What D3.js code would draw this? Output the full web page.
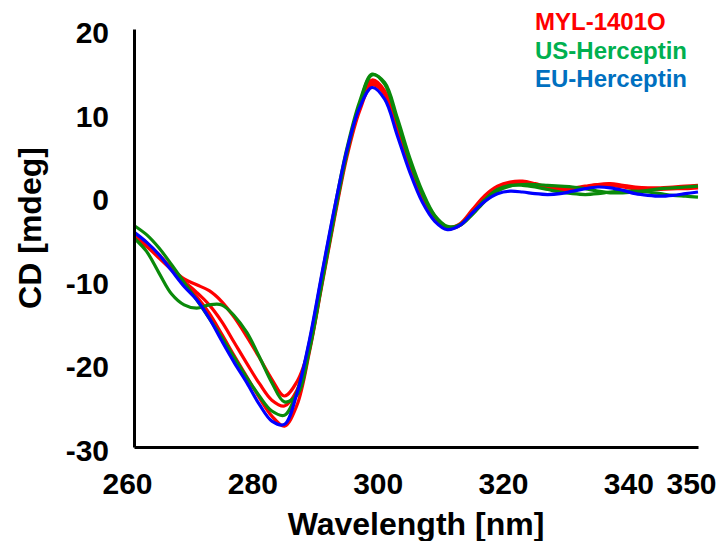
<!DOCTYPE html>
<html>
<head>
<meta charset="utf-8">
<script src="https://cdn.jsdelivr.net/npm/d3@7"></script>
<style>
  body { margin: 0; background: #fff; }
  svg { display: block; font-family: "Liberation Sans", Arial, sans-serif; font-weight: bold; }
</style>
</head>
<body>
<div id="chart"></div>
<script>
// Wavelength grid (nm)
const wavelengths = [260, 262, 264, 266, 268, 270, 272, 274, 276, 278, 280, 282, 284, 286, 288, 290,
  292, 294, 296, 298, 300, 302, 304, 306, 308, 310, 312, 314, 316, 318, 320, 322, 324, 326, 328,
  330, 332, 334, 336, 338, 340, 342, 344, 346, 348, 350];

// MYL-1401O lots
const myl1 = [-4.6, -5.6, -7.0, -8.6, -9.9, -10.6, -11.3, -12.6, -14.5, -16.8, -19.3, -21.9, -23.9, -22.2, -18.0, -10.0,
  -1.9, 5.4, 10.9, 13.9, 12.6, 8.2, 3.6, -0.2, -2.6, -3.7, -3.3, -1.6, 0.1, 1.2, 1.7, 1.8, 1.5, 1.1, 0.9,
  0.9, 1.1, 1.4, 1.5, 1.3, 1.1, 1.0, 1.0, 1.1, 1.2, 1.3];
const myl2 = [-5.1, -6.0, -7.4, -8.8, -10.2, -11.5, -13.0, -15.0, -17.5, -20.0, -22.4, -24.4, -25.1, -23.2, -18.2, -10.2,
  -2.2, 5.2, 10.6, 13.6, 12.3, 8.0, 3.4, -0.3, -2.7, -3.8, -3.4, -1.8, -0.1, 1.0, 1.5, 1.6, 1.3, 1.0, 0.9,
  1.0, 1.2, 1.4, 1.3, 1.1, 0.9, 0.8, 0.8, 0.9, 1.0, 1.1];
const myl3 = [-4.8, -5.8, -7.2, -8.8, -10.4, -12.0, -14.0, -16.5, -19.1, -21.6, -24.1, -26.3, -27.5, -25.0, -18.6, -10.6,
  -2.6, 4.8, 10.2, 13.3, 12.2, 7.9, 3.3, -0.4, -2.8, -3.9, -3.5, -1.9, -0.2, 0.9, 1.4, 1.5, 1.2, 0.9, 0.7,
  0.8, 1.0, 1.3, 1.4, 1.2, 1.0, 0.9, 0.9, 0.9, 0.9, 1.0];

// US-Herceptin lots
const us1 = [-3.5, -4.6, -6.2, -8.2, -10.3, -12.4, -14.6, -16.9, -19.3, -21.7, -23.9, -25.7, -26.2, -23.4, -17.4, -9.4,
  -1.5, 5.8, 11.3, 14.6, 13.4, 9.0, 4.2, 0.3, -2.4, -3.7, -3.4, -2.0, -0.4, 0.8, 1.3, 1.3, 1.1, 0.8, 0.5,
  0.3, 0.2, 0.3, 0.5, 0.6, 0.6, 0.5, 0.3, 0.1, 0.0, -0.1];
const us2 = [-5.0, -6.6, -9.2, -11.7, -13.0, -13.4, -13.0, -13.0, -14.3, -16.3, -19.2, -22.3, -24.6, -23.8, -18.4, -10.4,
  -2.3, 5.2, 11.0, 14.5, 13.6, 9.4, 4.6, 0.6, -2.3, -3.6, -3.5, -2.2, -0.6, 0.6, 1.2, 1.4, 1.4, 1.3, 1.2,
  1.1, 0.9, 0.6, 0.4, 0.4, 0.5, 0.7, 0.9, 1.0, 1.1, 1.2];

// EU-Herceptin
const eu1 = [-4.3, -5.5, -7.0, -8.9, -10.8, -12.4, -14.6, -17.3, -19.9, -22.3, -24.9, -26.9, -27.3, -23.6, -17.2, -9.2,
  -1.4, 5.6, 10.6, 13.0, 11.6, 7.3, 2.9, -0.7, -3.0, -4.0, -3.5, -2.0, -0.6, 0.3, 0.6, 0.5, 0.3, 0.2, 0.3,
  0.6, 0.9, 1.1, 1.0, 0.7, 0.3, 0.1, 0.0, 0.1, 0.3, 0.5];

const xTicks = [260, 280, 300, 320, 340, 350];
const yTicks = [20, 10, 0, -10, -20, -30];
const legendNames = ["MYL-1401O", "US-Herceptin", "EU-Herceptin"];

class CdChart {
  constructor(container) {
    this.container = container;
    this.width = 720;
    this.height = 541;
  }

  render() {
    const svg = d3
      .select(this.container)
      .append("svg")
      .attr("width", this.width)
      .attr("height", this.height);

    const x = d3.scaleLinear().domain([260, 350]).range([134, 698]);
    const y = d3.scaleLinear().domain([-30, 20]).range([447, 29]);

    // lines: red first, then green, blue on top
    const series = [
      { values: myl1, color: "#ff0000" },
      { values: myl2, color: "#ff0000" },
      { values: myl3, color: "#ff0000" },
      { values: us1, color: "#0a8a0a" },
      { values: us2, color: "#0a8a0a" },
      { values: eu1, color: "#0000ff" },
    ];

    const line = d3
      .line()
      .x((d) => x(d[0]))
      .y((d) => y(d[1]))
      .curve(d3.curveCatmullRom.alpha(0.5));

    svg
      .append("g")
      .selectAll("path")
      .data(series)
      .enter()
      .append("path")
      .attr("d", (s) => line(wavelengths.map((w, i) => [w, s.values[i]])))
      .attr("fill", "none")
      .attr("stroke", (s) => s.color)
      .attr("stroke-width", 3.2)
      .attr("stroke-linejoin", "round");

    // axes (plain hyphen for negatives, like the original)
    const fmt = (d) => String(d);

    const yAxis = svg
      .append("g")
      .attr("transform", "translate(134,0)")
      .call(d3.axisLeft(y).tickValues(yTicks).tickFormat(fmt).tickSize(0).tickPadding(25));
    yAxis.select(".domain").attr("stroke", "#000").attr("stroke-width", 3);
    yAxis
      .selectAll("text")
      .attr("font-size", 30)
      .attr("font-weight", "bold")
      .attr("font-family", "Liberation Sans, Arial, sans-serif")
      .attr("fill", "#000")
      .attr("dy", "0.45em");

    const xAxis = svg
      .append("g")
      .attr("transform", "translate(0,447)")
      .call(d3.axisBottom(x).tickValues(xTicks).tickFormat(fmt).tickSize(0).tickPadding(26));
    xAxis.select(".domain").attr("stroke", "#000").attr("stroke-width", 3);
    xAxis
      .selectAll("text")
      .attr("font-size", 30)
      .attr("font-weight", "bold")
      .attr("font-family", "Liberation Sans, Arial, sans-serif")
      .attr("fill", "#000")
      .attr("dx", -7);

    svg
      .append("text")
      .attr("x", 416)
      .attr("y", 535)
      .attr("text-anchor", "middle")
      .attr("font-size", 32)
      .text("Wavelength [nm]");

    svg
      .append("text")
      .attr("transform", "translate(41,228) rotate(-90)")
      .attr("text-anchor", "middle")
      .attr("font-size", 32)
      .text("CD [mdeg]");

    // legend as coloured text
    const legendColors = ["#ff0000", "#00b050", "#0070c0"];
    svg
      .append("g")
      .selectAll("text")
      .data(legendNames)
      .enter()
      .append("text")
      .attr("x", 535)
      .attr("y", (d, i) => 30 + i * 28.5)
      .attr("font-size", 24)
      .attr("fill", (d, i) => legendColors[i])
      .text((d) => d);
  }
}

new CdChart(document.getElementById("chart")).render();
</script>
</body>
</html>
